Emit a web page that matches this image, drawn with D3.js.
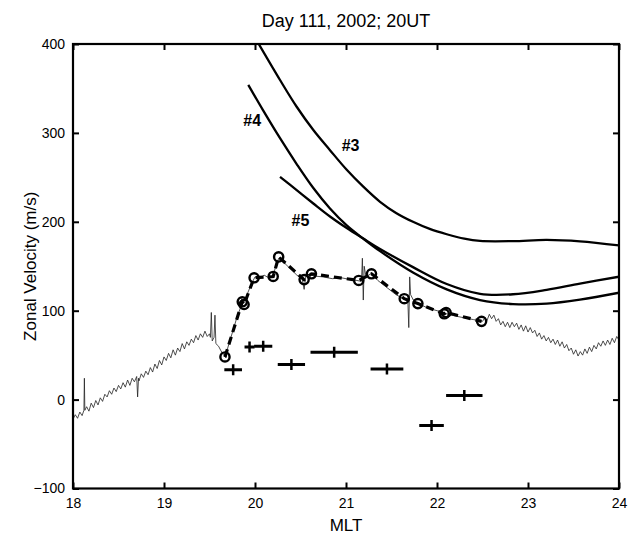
<!DOCTYPE html>
<html>
<head>
<meta charset="utf-8">
<script src="https://cdn.jsdelivr.net/npm/d3@7"></script>
<style>
  body { margin: 0; background: #fff; }
  text { font-family: "Liberation Sans", Arial, sans-serif; fill: #000; }
</style>
</head>
<body>
<div id="chart"></div>
<script>
// model curves #3, #4, #5  [MLT, velocity]
var curve3 = [[20.03,402],[20.275,359.5],[20.458,329.4],[20.641,303.2],[20.824,280.6],[21.008,258.5],[21.19,239.5],[21.374,222.5],[21.55,210],[21.736,200],[21.92,192],[22.107,186],[22.3,181],[22.473,178.5],[22.835,178.3],[23.205,179.6],[23.571,178],[24.0,173.4]];
var curve4 = [[19.926,354],[20.091,325],[20.275,294],[20.458,265],[20.641,238],[20.824,215],[21.008,196],[21.19,181],[21.374,167],[21.736,143],[22.107,124],[22.473,112],[22.835,107.5],[23.205,108],[23.571,112.5],[24.0,120.2]];
var curve5 = [[20.275,250.6],[20.458,235.6],[20.641,220.6],[20.824,206],[21.008,193],[21.19,181.2],[21.374,169.5],[21.736,149],[22.107,130],[22.473,119],[22.835,118.5],[23.205,123.5],[23.571,130.5],[24.0,138.2]];
var curveLabels = [["#3",21.05,280],["#4",19.97,308],["#5",20.5,195]];

// measured points (dashed with circles)
var circMlt = [19.67,19.86,19.88,19.99,20.2,20.26,20.54,20.62,21.14,21.28,21.64,21.79,22.08,22.1,22.49];
var circVel = [48,110,107,137,138.5,160.5,135,141.5,134,141.5,113.5,108,96.5,98,88];

// horizontal bars: centre MLT, half width, velocity
var barMlt  = [19.76,19.94,20.09,20.4,20.87,21.45,21.94,22.3];
var barHalf = [0.097,0.055,0.1,0.15,0.26,0.18,0.135,0.2];
var barVel  = [33.7,59.1,59.9,39.6,53.2,34.4,-29,4.7];

// thin trace
var trace = [[18.000,-22],[18.025,-17],[18.050,-21],[18.075,-14],[18.100,-18],[18.120,-12],[18.125,24],[18.130,-12],[18.150,-8],[18.175,-13],
  [18.200,-4],[18.225,-9],[18.250,-1],[18.275,-6],[18.300,2],[18.325,-2],[18.350,6],[18.375,3],[18.400,10],[18.425,6],
  [18.450,13],[18.475,9],[18.500,16],[18.525,12],[18.550,19],[18.575,14],[18.600,22],[18.625,16],[18.650,24],[18.675,20],
  [18.700,26],[18.710,3],[18.720,24],[18.725,21],[18.750,29],[18.775,25],[18.800,32],[18.825,28],[18.850,36],[18.875,31],
  [18.900,40],[18.925,35],[18.950,44],[18.975,39],[19.000,48],[19.025,44],[19.050,52],[19.075,47],[19.100,56],[19.125,50],
  [19.150,58],[19.175,54],[19.200,63],[19.225,57],[19.250,65],[19.275,61],[19.300,68],[19.325,64],[19.350,72],[19.375,67],
  [19.400,74],[19.425,70],[19.450,77],[19.475,71],[19.500,74],[19.510,70],[19.520,98],[19.530,66],[19.550,70],[19.560,95],
  [19.570,63],[19.600,60],[19.625,55],[19.650,51],[19.680,47],
  [19.70,58],[19.75,75],[19.80,92],[19.85,106],[19.88,110],[19.92,120],[19.96,130],[20.00,138],[20.05,136],[20.10,140],
  [20.15,137],[20.20,139],[20.24,155],[20.27,160],[20.33,153],[20.40,146],[20.46,140],[20.52,135],[20.54,124],[20.56,140],
  [20.60,141],[20.65,139],[20.75,138],[20.85,136],[20.95,137],[21.05,135],[21.12,134],[21.17,133],[21.18,159],[21.19,112],
  [21.20,150],[21.22,138],[21.28,142],[21.35,134],[21.45,126],[21.55,118],[21.64,113],[21.68,110],[21.69,81],[21.70,138],
  [21.71,118],[21.74,112],[21.79,108],[21.90,103],[22.00,100],[22.09,97],[22.20,94],[22.30,92],[22.40,90],
  [22.500,88],[22.525,92],[22.550,89],[22.575,96],[22.600,91],[22.625,95],[22.650,88],[22.675,91],[22.700,84],[22.725,88],
  [22.750,82],[22.775,87],[22.800,81],[22.825,87],[22.850,82],[22.875,86],[22.900,79],[22.925,84],[22.950,77],[22.975,83],
  [23.000,76],[23.025,81],[23.050,75],[23.075,78],[23.100,71],[23.125,75],[23.150,68],[23.175,72],[23.200,66],[23.225,70],
  [23.250,64],[23.275,68],[23.300,62],[23.325,67],[23.350,60],[23.375,65],[23.400,58],[23.425,62],[23.450,55],[23.475,58],
  [23.500,51],[23.525,56],[23.550,49],[23.575,54],[23.600,50],[23.625,57],[23.650,52],[23.675,59],[23.700,54],[23.725,61],
  [23.750,57],[23.775,64],[23.800,60],[23.825,66],[23.850,61],[23.875,67],[23.900,62],[23.925,69],[23.950,64],[23.975,71],[24.000,67]];

var xTicks = [18,19,20,21,22,23,24];
var yTicks = [-100,0,100,200,300,400];

var W = 628, H = 537;
var padding = {left: 73, right: 9, top: 44, bottom: 48.5};

var svg = d3.select("#chart").append("svg").attr("width", W).attr("height", H);

var x = d3.scaleLinear().domain([18, 24]).range([padding.left, W - padding.right]);
var y = d3.scaleLinear().domain([-100, 400]).range([H - padding.bottom, padding.top]);

svg.append("defs").append("clipPath").attr("id", "clip")
  .append("rect")
  .attr("x", x(18)).attr("y", y(400))
  .attr("width", x(24) - x(18)).attr("height", y(-100) - y(400));

var plot = svg.append("g").attr("clip-path", "url(#clip)");

var line = d3.line().x(function(d){ return x(d[0]); }).y(function(d){ return y(d[1]); });
var smooth = d3.line().curve(d3.curveCatmullRom.alpha(0.5)).x(function(d){ return x(d[0]); }).y(function(d){ return y(d[1]); });

// thin trace
plot.append("path")
  .attr("d", line(trace))
  .attr("fill", "none")
  .attr("stroke", "#222")
  .attr("stroke-width", 0.8);

// model curves
[curve3, curve4, curve5].forEach(function(c){
  plot.append("path")
    .attr("d", smooth(c))
    .attr("fill", "none")
    .attr("stroke", "#000")
    .attr("stroke-width", 2.3);
});

svg.selectAll(".clabel")
  .data(curveLabels)
  .enter().append("text")
  .attr("class", "clabel")
  .attr("x", function(d){ return x(d[1]); })
  .attr("y", function(d){ return y(d[2]); })
  .attr("text-anchor", "middle")
  .style("font-size", "16px")
  .style("font-weight", "bold")
  .text(function(d){ return d[0]; });

// dashed line + circles
var circ = circMlt.map(function(m, i){ return [m, circVel[i]]; });
plot.append("path")
  .attr("d", line(circ))
  .attr("fill", "none")
  .attr("stroke", "#000")
  .attr("stroke-width", 3.2)
  .attr("stroke-dasharray", "8,5");

plot.selectAll(".pt")
  .data(circ)
  .enter().append("circle")
  .attr("class", "pt")
  .attr("cx", function(d){ return x(d[0]); })
  .attr("cy", function(d){ return y(d[1]); })
  .attr("r", 4.6)
  .attr("fill", "none")
  .attr("stroke", "#000")
  .attr("stroke-width", 2.4);

// horizontal bars
var bars = barMlt.map(function(m, i){ return {m: m, h: barHalf[i], v: barVel[i]}; });
var bg = plot.selectAll(".bar").data(bars).enter().append("g").attr("class", "bar");
bg.append("line")
  .attr("x1", function(d){ return x(d.m - d.h); })
  .attr("x2", function(d){ return x(d.m + d.h); })
  .attr("y1", function(d){ return y(d.v); })
  .attr("y2", function(d){ return y(d.v); })
  .attr("stroke", "#000").attr("stroke-width", 3);
bg.append("line")
  .attr("x1", function(d){ return x(d.m); })
  .attr("x2", function(d){ return x(d.m); })
  .attr("y1", function(d){ return y(d.v) - 5.5; })
  .attr("y2", function(d){ return y(d.v) + 5.5; })
  .attr("stroke", "#000").attr("stroke-width", 2.5);

// axes (ticks inside, on all four sides)
function styleAxis(g){
  g.select(".domain").remove();
  g.selectAll(".tick line").attr("stroke", "#000").attr("stroke-width", 2);
  g.selectAll(".tick text").style("font-size", "14px").style("font-family", "Liberation Sans, Arial, sans-serif");
}
svg.append("g").attr("transform", "translate(0," + y(-100) + ")")
  .call(d3.axisBottom(x).tickValues(xTicks).tickSize(-6).tickPadding(10).tickFormat(d3.format("d")))
  .call(styleAxis);
svg.append("g").attr("transform", "translate(0," + y(400) + ")")
  .call(d3.axisTop(x).tickValues(xTicks).tickSize(-6).tickFormat(""))
  .call(styleAxis);
svg.append("g").attr("transform", "translate(" + x(18) + ",0)")
  .call(d3.axisLeft(y).tickValues(yTicks).tickSize(-6).tickPadding(8).tickFormat(d3.format("d")))
  .call(styleAxis);
svg.append("g").attr("transform", "translate(" + x(24) + ",0)")
  .call(d3.axisRight(y).tickValues(yTicks).tickSize(-6).tickFormat(""))
  .call(styleAxis);

svg.append("rect")
  .attr("x", x(18)).attr("y", y(400))
  .attr("width", x(24) - x(18)).attr("height", y(-100) - y(400))
  .attr("fill", "none").attr("stroke", "#000").attr("stroke-width", 2.2);

// titles
svg.append("text")
  .attr("x", (x(18) + x(24)) / 2).attr("y", 27)
  .attr("text-anchor", "middle").style("font-size", "18px")
  .text("Day 111, 2002; 20UT");
svg.append("text")
  .attr("x", (x(18) + x(24)) / 2).attr("y", 531)
  .attr("text-anchor", "middle").style("font-size", "17px")
  .text("MLT");
svg.append("text")
  .attr("transform", "translate(36," + (y(-100) + y(400)) / 2 + ") rotate(-90)")
  .attr("text-anchor", "middle").style("font-size", "17px")
  .text("Zonal Velocity (m/s)");
</script>
</body>
</html>
